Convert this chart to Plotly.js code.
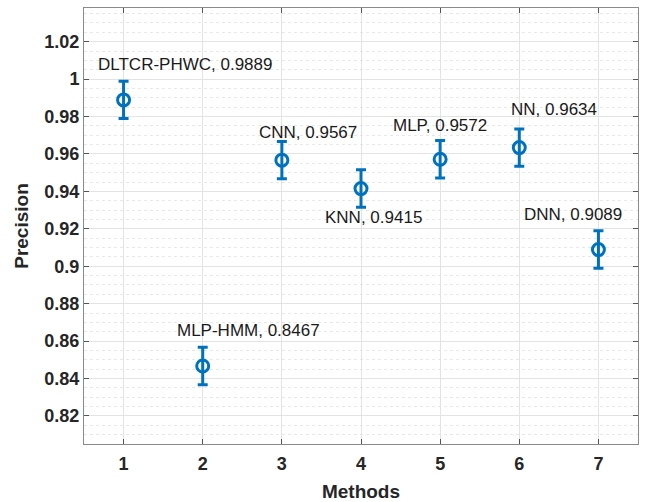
<!DOCTYPE html>
<html>
<head>
<meta charset="utf-8">
<script src="https://cdn.plot.ly/plotly-3.0.1.min.js"></script>
<style>html,body{margin:0;padding:0;background:#fff;}#chart{width:645px;height:502px;}</style>
</head>
<body>
<div id="chart"></div>
<script>
// Data
const methods = [1, 2, 3, 4, 5, 6, 7];
const methodNames = ["DLTCR-PHWC", "MLP-HMM", "CNN", "KNN", "MLP", "NN", "DNN"];
const precision = [0.9889, 0.8467, 0.9567, 0.9415, 0.9572, 0.9634, 0.9089];
const errors = [0.01, 0.01, 0.01, 0.01, 0.01, 0.01, 0.01];
const yTickVals = [0.82, 0.84, 0.86, 0.88, 0.9, 0.92, 0.94, 0.96, 0.98, 1, 1.02];
const yTickText = ["0.82", "0.84", "0.86", "0.88", "0.9", "0.92", "0.94", "0.96", "0.98", "1", "1.02"];
const xTickText = ["1", "2", "3", "4", "5", "6", "7"];

// label placement offsets in pixels (left edge, vertical centre relative to point)
const labelShiftX = [-28, -28, -25, -38, -49, -10, -76];
const labelShiftY = [35, 35, 28, -29, 34, 38, 35];

const blue = "#0072BD";
const font = "Arial, 'Liberation Sans', Helvetica, sans-serif";

const trace = {
  x: methods,
  y: precision,
  type: "scatter",
  mode: "markers",
  marker: {symbol: "circle-open", size: 12, color: blue, line: {width: 3, color: blue}},
  error_y: {type: "data", array: errors, visible: true, color: blue, thickness: 3, width: 5},
  hoverinfo: "x+y"
};

const annotations = methods.map((m, i) => ({
  x: m, y: precision[i], xref: "x", yref: "y",
  text: methodNames[i] + ", " + precision[i].toFixed(4),
  showarrow: false, xanchor: "left", yanchor: "middle",
  xshift: labelShiftX[i], yshift: labelShiftY[i],
  font: {family: font, size: 17, color: "#1a1a1a"}
}));

const layout = {
  width: 645, height: 502,
  margin: {l: 84, r: 7, t: 8, b: 58},
  paper_bgcolor: "#fff", plot_bgcolor: "#fff",
  showlegend: false,
  font: {family: font, color: "#262626"},
  xaxis: {
    range: [0.5, 7.5],
    tickvals: methods, ticktext: xTickText,
    ticks: "inside", ticklen: 5, tickcolor: "#555", mirror: "ticks",
    showline: true, linecolor: "#8a8a8a", linewidth: 1,
    showgrid: true, gridcolor: "#e3e3e3", gridwidth: 1,
    zeroline: false,
    ticklabelstandoff: 3,
    tickfont: {family: font, size: 18, color: "#262626", weight: "bold"},
    title: {text: "<b>Methods</b>", font: {family: font, size: 19, color: "#262626"}, standoff: 12}
  },
  yaxis: {
    range: [0.805, 1.038],
    tickvals: yTickVals, ticktext: yTickText,
    ticks: "inside", ticklen: 5, tickcolor: "#555", mirror: "ticks",
    showline: true, linecolor: "#8a8a8a", linewidth: 1,
    showgrid: true, gridcolor: "#e3e3e3", gridwidth: 1,
    zeroline: false,
    minor: {dtick: 0.005, showgrid: true, gridcolor: "#e8e8e8", griddash: "dot", gridwidth: 1, ticks: ""},
    tickfont: {family: font, size: 18, color: "#262626", weight: "bold"},
    title: {text: "<b>Precision</b>", font: {family: font, size: 19, color: "#262626"}, standoff: 10}
  },
  annotations: annotations
};

Plotly.newPlot("chart", [trace], layout, {displayModeBar: false, staticPlot: true});
</script>
</body>
</html>
